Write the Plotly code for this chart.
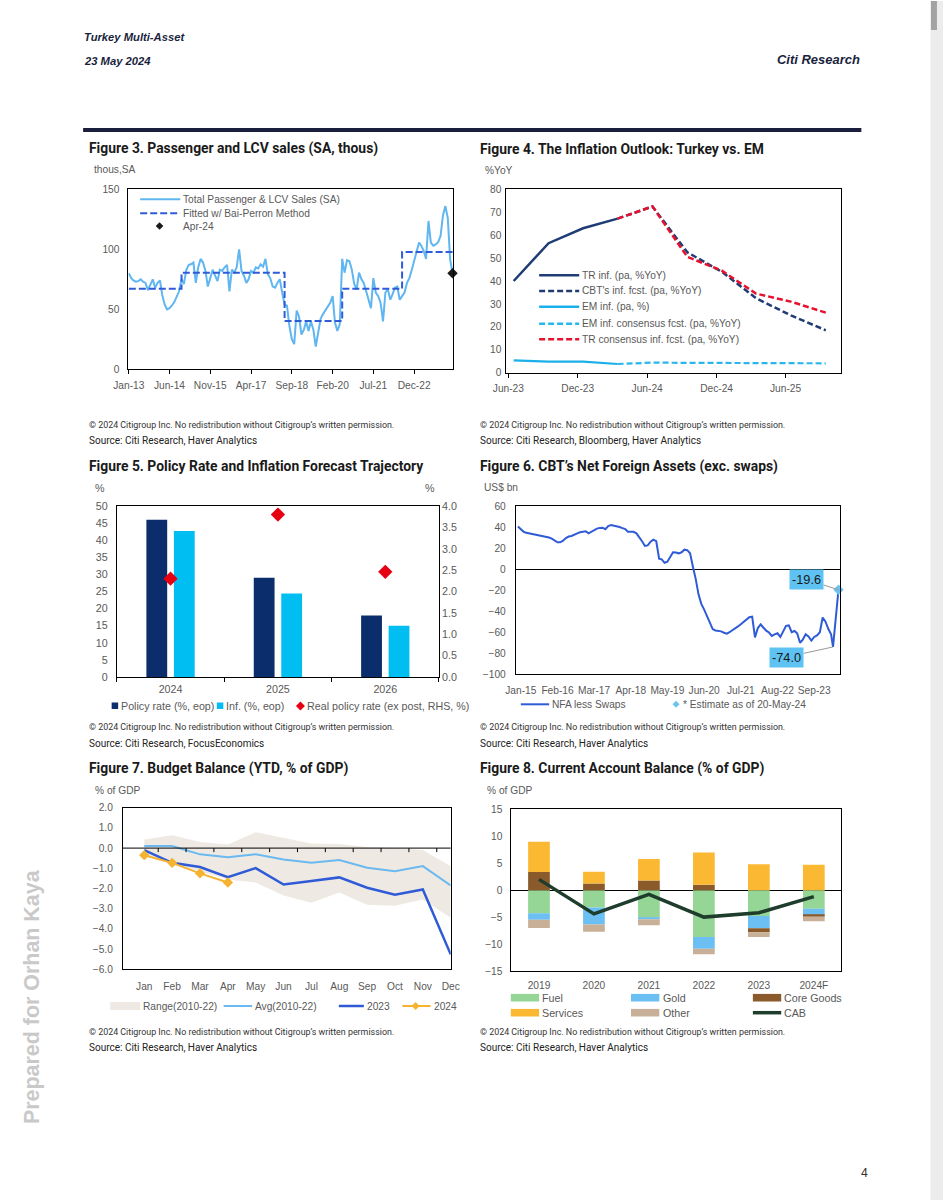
import plotly.graph_objects as go
import pandas as pd

W, H = 943, 1200
ARIAL = "Liberation Sans, Arial, sans-serif"
ROBO = "Roboto, Liberation Sans, sans-serif"
TICKC = "#595959"

# ------------------------------------------------------------------ DATA
# Figure 3: Passenger & LCV sales (monthly, Jan-13 .. Apr-24)
f3_start = "2013-01-01"
f3_sales = [80, 76, 74, 73, 73.5, 75, 73, 72, 66, 70, 75, 68,
            72, 74, 62, 54, 50, 51, 53, 56, 61, 65, 75, 71,
            83, 87, 87.5, 89, 72, 85, 92, 89, 82, 69, 76, 83,
            78, 73.5, 83, 82, 85, 87, 65, 83, 80.5, 85, 100, 82,
            78, 72, 75, 82, 80.5, 85, 84, 87.5, 85.5, 92, 79, 76,
            69, 68, 72, 75, 64, 54, 53, 36, 25, 21, 49, 44,
            29, 33, 40, 32, 40, 33, 19, 29, 42, 46, 49, 53,
            55.5, 61, 39, 32, 37.5, 92, 80.5, 91, 90, 83, 71, 66.7,
            80.5, 75, 72, 65, 58, 51, 76, 64, 61, 55.5, 40, 64,
            66.7, 58, 62.5, 68, 69, 58, 61, 64, 72, 76, 83, 90,
            97, 105.6, 103, 98.6, 92, 123.6, 105.6, 103, 104, 106, 111, 128,
            136, 126, 92, 80]
f3_fit_starts = ["2013-01-01", "2014-11-01", "2018-06-01", "2020-06-01", "2022-07-01"]
f3_fit_levels = [67.2, 80.5, 40.3, 67.2, 97.8]
f3_last_date = "2024-04-01"
f3_apr24 = 80.0

# Figure 4: inflation outlook (quarterly)
f4_dates = ["2023-06-15", "2023-09-15", "2023-12-15", "2024-03-15", "2024-06-15",
            "2024-09-15", "2024-12-15", "2025-03-15", "2025-06-15", "2025-09-15"]
f4_tr = [40, 56.5, 63, 67.2, None, None, None, None, None, None]
f4_cbt = [None, None, None, 67.2, 72.5, 52.5, 44, 32.5, 25, 18.5]
f4_em = [5.4, 4.8, 4.8, 3.8, None, None, None, None, None, None]
f4_em_cons = [None, None, None, 3.8, 4.4, 4.3, 4.2, 4.1, 4.1, 4.1]
f4_tr_cons = [None, None, None, 67.2, 72.5, 50.5, 44.5, 34.5, 31, 26.2]

# Figure 5: policy rate & inflation forecasts
f5_years = ["2024", "2025", "2026"]
f5_policy = [46, 29, 18]
f5_infl = [42.7, 24.4, 15]
f5_real = [2.3, 3.8, 2.46]

# Figure 6: CBT net foreign assets (monthly from Dec-14), plus estimate
f6_start = "2014-12-01"
f6_nfa = [40.5, 38, 35.5, 34.5, 34, 33, 32.5, 32, 31.5, 31, 30.5, 30,
          29, 27.5, 25.5, 25.5, 27, 29.5, 31, 31.5, 33, 34, 35, 35.5,
          36, 34, 35.5, 37.5, 38.5, 39.2, 39.4, 38, 41, 42, 41.5, 41,
          40, 39, 38, 35.5, 35.5, 35.5, 34, 30.5, 26.5, 22, 22.5, 26,
          28, 26.5, 10, 9.3, 6, 7, 12, 16, 15.8, 15, 16, 18.5,
          18, 15, 2, -9, -24, -33, -38.5, -45, -51.5, -57, -58.3, -58.8,
          -59.2, -60.5, -61.3, -60, -58.3, -56.5, -54.5, -52.5, -50, -47.5, -45.8, -45.2,
          -65, -56, -52.5, -55.5, -58.5, -60.3, -63.5, -62, -61, -64.5, -60, -54,
          -53.5, -60, -58.8, -61, -70, -67, -62, -64, -68, -64.5, -63, -60,
          -46, -50, -57, -62]
f6_low_date, f6_low = "2024-03-22", -74.0
f6_est_date, f6_est = "2024-05-20", -19.6

# Figure 7: budget balance YTD
f7_months = ["Jan", "Feb", "Mar", "Apr", "May", "Jun", "Jul", "Aug", "Sep", "Oct", "Nov", "Dec"]
f7_range_hi = [0.43, 0.63, 0.3, 0.18, 0.79, 0.51, 0.23, 0.2, 0.05, 0.0, -0.1, -0.9]
f7_range_lo = [-0.4, -0.8, -1.15, -1.55, -1.7, -2.35, -2.7, -2.2, -2.8, -2.85, -2.55, -3.45]
f7_avg = [0.1, 0.1, -0.31, -0.45, -0.3, -0.56, -0.73, -0.59, -0.97, -1.14, -0.89, -1.85]
f7_2023 = [-0.1, -0.73, -0.94, -1.44, -0.99, -1.8, -1.63, -1.45, -1.96, -2.31, -2.05, -5.26]
f7_2024 = [-0.35, -0.73, -1.25, -1.7]

# Figure 8: current account balance components
f8_years = ["2019", "2020", "2021", "2022", "2023", "2024F"]
f8_fuel = [-4.3, -3.2, -5.1, -8.7, -4.8, -3.45]
f8_gold = [-1.2, -3.15, -0.3, -2.15, -2.25, -1.2]
f8_core = [3.35, 1.25, 1.8, 1.0, -0.75, -0.3]
f8_services = [5.65, 2.15, 4.0, 6.0, 4.8, 4.7]
f8_other = [-1.5, -1.35, -1.1, -1.05, -0.9, -0.8]
f8_cab = [2.0, -4.4, -0.8, -5.0, -4.2, -1.2]

# ------------------------------------------------------------------ HELPERS
# screen calibration: photographed position = S * page position + O
OX, SX = 15.0, 0.973
OY, SY = 5.0, 0.99


def fx(p):
    return ((p - OX) / SX) / W


def fy(p):
    return 1 - ((p - OY) / SY) / H


def fs(s):
    return round(s / 0.98, 2)


shapes = []
annotations = []


def txt(x, y, text, size=10, color=TICKC, family=ARIAL, xanchor="left", yanchor="middle", **kw):
    annotations.append(dict(x=fx(x), y=fy(y), xref="paper", yref="paper", text=text,
                            showarrow=False, xanchor=xanchor, yanchor=yanchor,
                            font=dict(size=fs(size), color=color, family=family), **kw))


def hline(x0, x1, y, color, width, dash="solid"):
    shapes.append(dict(type="line", xref="paper", yref="paper", x0=fx(x0), x1=fx(x1),
                       y0=fy(y), y1=fy(y), line=dict(color=color, width=width, dash=dash)))


def rect(x0, y0, x1, y1, color):
    shapes.append(dict(type="rect", xref="paper", yref="paper", x0=fx(x0), x1=fx(x1),
                       y0=fy(y1), y1=fy(y0), fillcolor=color, line=dict(width=0)))


def diamond(cx, cy, r, color):
    path = (f"M {fx(cx)} {fy(cy - r)} L {fx(cx + r)} {fy(cy)} "
            f"L {fx(cx)} {fy(cy + r)} L {fx(cx - r)} {fy(cy)} Z")
    shapes.append(dict(type="path", xref="paper", yref="paper", path=path,
                       fillcolor=color, line=dict(width=0)))


TF = dict(family=ARIAL, size=fs(10), color=TICKC)
TF5 = dict(family=ARIAL, size=fs(10.5), color=TICKC)


def xax(l, r, anchor, **kw):
    d = dict(domain=[fx(l), fx(r)], anchor=anchor, showline=True, mirror=True,
             linecolor="black", linewidth=1, showgrid=False, zeroline=False,
             tickfont=TF, ticks="", fixedrange=True)
    d.update(kw)
    return d


def yax(t, b, anchor, **kw):
    d = dict(domain=[fy(b), fy(t)], anchor=anchor, showline=True, mirror=True,
             linecolor="black", linewidth=1, showgrid=False, zeroline=False,
             tickfont=TF, ticks="", fixedrange=True)
    d.update(kw)
    return d


fig = go.Figure()

# ------------------------------------------------------------------ FIGURE 3
f3_dates = pd.date_range(f3_start, periods=len(f3_sales), freq="MS")
fig.add_scatter(x=f3_dates, y=f3_sales, mode="lines", xaxis="x", yaxis="y",
                line=dict(color="#5fb6f0", width=2), showlegend=False)
fig.add_scatter(x=f3_fit_starts + [f3_last_date], y=f3_fit_levels + [f3_fit_levels[-1]],
                mode="lines", line_shape="hv", xaxis="x", yaxis="y",
                line=dict(color="#2f5bd8", width=2, dash="7px,3px"), showlegend=False)
fig.add_scatter(x=[f3_last_date], y=[f3_apr24], mode="markers", xaxis="x", yaxis="y",
                marker=dict(symbol="diamond", size=8, color="#1a1a1a"), cliponaxis=False,
                showlegend=False)

# ------------------------------------------------------------------ FIGURE 4
fig.add_scatter(x=f4_dates, y=f4_tr, mode="lines", xaxis="x2", yaxis="y2",
                line=dict(color="#1f3c75", width=2.5), showlegend=False)
fig.add_scatter(x=f4_dates, y=f4_cbt, mode="lines", xaxis="x2", yaxis="y2",
                line=dict(color="#1f3c75", width=2.5, dash="6px,3px"), showlegend=False)
fig.add_scatter(x=f4_dates, y=f4_em, mode="lines", xaxis="x2", yaxis="y2",
                line=dict(color="#1cb0ea", width=2.2), showlegend=False)
fig.add_scatter(x=f4_dates, y=f4_em_cons, mode="lines", xaxis="x2", yaxis="y2",
                line=dict(color="#29b6ec", width=2.2, dash="6px,3px"), showlegend=False)
fig.add_scatter(x=f4_dates, y=f4_tr_cons, mode="lines", xaxis="x2", yaxis="y2",
                line=dict(color="#e8112d", width=2.5, dash="6px,3px"), showlegend=False)

# ------------------------------------------------------------------ FIGURE 5
fig.add_bar(x=f5_years, y=f5_policy, xaxis="x3", yaxis="y3", marker_color="#0b2d6b",
            marker_line_width=0, showlegend=False)
fig.add_bar(x=f5_years, y=f5_infl, xaxis="x3", yaxis="y3", marker_color="#00bdf2",
            marker_line_width=0, showlegend=False)
fig.add_scatter(x=f5_years, y=f5_real, mode="markers", xaxis="x3", yaxis="y4",
                marker=dict(symbol="diamond", size=11, color="#e60012"), showlegend=False)

# ------------------------------------------------------------------ FIGURE 6
f6_dates = list(pd.date_range(f6_start, periods=len(f6_nfa), freq="MS").strftime("%Y-%m-%d"))
fig.add_scatter(x=f6_dates + [f6_low_date, f6_est_date], y=f6_nfa + [f6_low, f6_est],
                mode="lines", xaxis="x4", yaxis="y5",
                line=dict(color="#2f5bd6", width=2), showlegend=False)
fig.add_scatter(x=[f6_est_date], y=[f6_est], mode="markers", xaxis="x4", yaxis="y5",
                marker=dict(symbol="diamond", size=8, color="#6cc4f2"), cliponaxis=False,
                showlegend=False)

# ------------------------------------------------------------------ FIGURE 7
fig.add_scatter(x=f7_months, y=f7_range_lo, mode="lines", xaxis="x5", yaxis="y6",
                line=dict(width=0, color="#efe9e3"), showlegend=False)
fig.add_scatter(x=f7_months, y=f7_range_hi, mode="lines", xaxis="x5", yaxis="y6",
                fill="tonexty", fillcolor="#efe9e3",
                line=dict(width=0, color="#efe9e3"), showlegend=False)
fig.add_scatter(x=f7_months, y=f7_avg, mode="lines", xaxis="x5", yaxis="y6",
                line=dict(color="#6ab9f0", width=2), showlegend=False)
fig.add_scatter(x=f7_months, y=f7_2023, mode="lines", xaxis="x5", yaxis="y6",
                line=dict(color="#2f5bd6", width=2.5), showlegend=False)
fig.add_scatter(x=f7_months[:len(f7_2024)], y=f7_2024, mode="lines+markers",
                xaxis="x5", yaxis="y6",
                line=dict(color="#f6b331", width=2),
                marker=dict(symbol="diamond", size=8, color="#f6b331"), showlegend=False)

# ------------------------------------------------------------------ FIGURE 8
f8_series = [("Fuel", f8_fuel, "#95d595"), ("Gold", f8_gold, "#6bbff2"),
             ("Core Goods", f8_core, "#8b5a2b"), ("Services", f8_services, "#fbb933"),
             ("Other", f8_other, "#c8b098")]
pos = [0.0] * len(f8_years)
neg = [0.0] * len(f8_years)
for name, vals, col in f8_series:
    base = []
    for i, v in enumerate(vals):
        if v >= 0:
            base.append(pos[i])
            pos[i] += v
        else:
            base.append(neg[i])
            neg[i] += v
    fig.add_bar(x=f8_years, y=vals, base=base, xaxis="x6", yaxis="y7", width=0.395,
                offsetgroup="f8", marker_color=col, marker_line_width=0, showlegend=False)
fig.add_scatter(x=f8_years, y=f8_cab, mode="lines", xaxis="x6", yaxis="y7",
                line=dict(color="#1e3d2c", width=3.5), showlegend=False)

# ------------------------------------------------------------------ AXES
layout = dict(
    xaxis=xax(128.3, 452.7, "y", type="date", range=["2012-12-28", "2024-04-12"],
              tick0="2013-01-01", dtick="M17", tickformat="%b-%y", ticks="outside",
              ticklen=4, tickcolor="black", ticklabelstandoff=2),
    yaxis=yax(188.3, 368.3, "x", range=[0, 150], dtick=50, ticklabelstandoff=6),
    xaxis2=xax(505.7, 840, "y2", type="date", range=["2023-05-27", "2025-10-26"],
               tick0="2023-06-01", dtick="M6", tickformat="%b-%y", ticks="outside",
               ticklen=4, tickcolor="black", ticklabelstandoff=2),
    yaxis2=yax(188.3, 371.7, "x2", range=[0, 80], dtick=10, ticklabelstandoff=2),
    xaxis3=xax(116.7, 438.3, "y3", type="category", tickson="boundaries", ticks="outside",
               ticklen=4, tickcolor="black", ticklabelstandoff=2, tickfont=TF5),
    yaxis3=yax(505, 676, "x3", range=[0, 50], dtick=5, ticklabelstandoff=6, tickfont=TF5),
    yaxis4=dict(overlaying="y3", side="right", anchor="x3", range=[0, 4], dtick=0.5,
                tickformat=".1f", showgrid=False, zeroline=False, showline=False,
                tickfont=TF5, ticklabelstandoff=2, fixedrange=True),
    xaxis4=xax(515, 838.3, "y5", type="date", range=["2014-11-08", "2024-06-01"],
               tick0="2015-01-01", dtick="M13", tickformat="%b-%y", ticklabelstandoff=6),
    yaxis5=yax(505, 673.3, "x4", range=[-100, 60], dtick=20, ticklabelstandoff=7,
               zeroline=True, zerolinecolor="black", zerolinewidth=1),
    xaxis5=xax(122.7, 450, "y6", type="category", ticklabelstandoff=7),
    yaxis6=yax(806.7, 968.3, "x5", range=[-6, 2], dtick=1, tickformat=".1f",
               ticklabelstandoff=7),
    xaxis6=xax(510.7, 840, "y7", type="category", ticklabelstandoff=5),
    yaxis7=yax(808.3, 970, "x6", range=[-15, 15], dtick=5, ticklabelstandoff=6,
               zeroline=True, zerolinecolor="black", zerolinewidth=1),
)

# zero line of figure 7 (drawn above the range band) with its category tick marks
shapes.append(dict(type="line", xref="x5 domain", yref="y6", x0=0, x1=1, y0=0, y1=0,
                   line=dict(color="black", width=1), layer="above"))
for i in range(len(f7_months) - 1):
    shapes.append(dict(type="line", xref="x5", yref="y6", x0=i + 0.5, x1=i + 0.5,
                       y0=0, y1=-0.2, line=dict(color="black", width=1), layer="above"))

# ------------------------------------------------------------------ PAGE FURNITURE
rect(929, 0, 943, 1200, "#ececec")
rect(929.5, 0, 935.5, 29, "#a3a3a3")

txt(82, 36, "<b><i>Turkey Multi-Asset</i></b>", size=11, color="#1a1f3d", family=ARIAL)
txt(82, 60, "<b><i>23 May 2024</i></b>", size=11, color="#1a1f3d", family=ARIAL)
txt(861, 58, "<b><i>Citi Research</i></b>", size=12.7, color="#1a1f3d", family=ARIAL,
    xanchor="right")
rect(83, 127, 860, 131, "#1a1f3d")

txt(32, 996, "<b>Prepared for Orhan Kaya</b>", size=21, color="#c9c9c9", family=ARIAL,
    xanchor="center", textangle=-90)
txt(863, 1172, "4", size=12, color="#333333", family=ARIAL, xanchor="center")

# titles
TITLE_C = "#1a1a1a"
titles = [(87, 148, "Figure 3. Passenger and LCV sales (SA, thous)"),
          (477, 148, "Figure 4. The Inflation Outlook: Turkey vs. EM"),
          (87, 465, "Figure 5. Policy Rate and Inflation Forecast Trajectory"),
          (477, 465, "Figure 6. CBT\u2019s Net Foreign Assets (exc. swaps)"),
          (87, 768, "Figure 7. Budget Balance (YTD, % of GDP)"),
          (477, 768, "Figure 8. Current Account Balance (% of GDP)")]
for x, y, t in titles:
    txt(x, y, "<b>" + t + "</b>", size=13.6, color=TITLE_C, family=ROBO)

COPY = "\u00a9 2024 Citigroup Inc. No redistribution without Citigroup\u2019s written permission."
sources = [(87, 424.3, 440, "Source: Citi Research, Haver Analytics"),
           (477, 424.3, 440, "Source: Citi Research, Bloomberg, Haver Analytics"),
           (87, 726, 742.7, "Source: Citi Research, FocusEconomics"),
           (477, 726, 742.7, "Source: Citi Research, Haver Analytics"),
           (87, 1031, 1046.7, "Source: Citi Research, Haver Analytics"),
           (477, 1031, 1046.7, "Source: Citi Research, Haver Analytics")]
for x, yc, ys, s in sources:
    txt(x, yc, COPY, size=8.7, color="#333333", family=ROBO)
    txt(x, ys, s, size=9.8, color="#222222", family=ROBO)

# axis unit labels
txt(92, 169, "thous,SA")
txt(482, 169.3, "%YoY")
txt(92.5, 486.7, "%", size=10.5)
txt(422.5, 486.7, "%", size=10.5)
txt(481, 486.7, "US$ bn")
txt(92.5, 789.3, "% of GDP")
txt(484, 789.3, "% of GDP")

# ---- legend figure 3
hline(140, 180, 198.3, "#5fb6f0", 2)
txt(181, 198.3, "Total Passenger & LCV Sales (SA)")
hline(140, 180, 212.3, "#2f5bd8", 2, "7px,3px")
txt(181, 212.3, "Fitted w/ Bai-Perron Method")
diamond(159.3, 225, 3.8, "#1a1a1a")
txt(181, 225, "Apr-24")

# ---- legend figure 4
f4_leg = [(274.3, "#1f3c75", "solid", "TR inf. (pa, %YoY)"),
          (290, "#1f3c75", "6px,3px", "CBT's inf. fcst. (pa, %YoY)"),
          (305.7, "#1cb0ea", "solid", "EM inf. (pa, %)"),
          (322.7, "#29b6ec", "6px,3px", "EM inf. consensus fcst. (pa, %YoY)"),
          (338.3, "#e8112d", "6px,3px", "TR consensus inf. fcst. (pa, %YoY)")]
for y, c, d, t in f4_leg:
    hline(538.3, 578.3, y, c, 2.5, d)
    txt(579, y, t)

# ---- legend figure 5
rect(111.5, 701.5, 118, 708, "#0b2d6b")
txt(118.5, 705, "Policy rate (%, eop)", size=10.5)
rect(216.5, 701.5, 223, 708, "#00bdf2")
txt(223.5, 705, "Inf. (%, eop)", size=10.5)
diamond(300, 705, 4.5, "#e60012")
txt(304.5, 705, "Real policy rate (ex post, RHS, %)", size=10.5)

# ---- legend figure 6
hline(520, 548.3, 703.3, "#2f5bd6", 2)
txt(549, 703.3, "NFA less Swaps")
diamond(675, 703.3, 3.5, "#6cc4f2")
txt(679.5, 703.3, "* Estimate as of 20-May-24")

# ---- legend figure 7
rect(110, 1001, 140, 1009, "#efe9e3")
txt(141, 1005, "Range(2010-22)")
hline(223.3, 251.7, 1005, "#6ab9f0", 2)
txt(252.5, 1005, "Avg(2010-22)")
hline(338.3, 363.3, 1005, "#2f5bd6", 2.5)
txt(364, 1005, "2023")
hline(401.7, 430, 1005, "#f6b331", 2)
diamond(415, 1005, 4, "#f6b331")
txt(431, 1005, "2024")

# ---- legend figure 8
f8_leg = [(510, 996.7, "#95d595", "Fuel"), (630, 996.7, "#6bbff2", "Gold"),
          (751.7, 996.7, "#8b5a2b", "Core Goods"), (510, 1011.7, "#fbb933", "Services"),
          (630, 1011.7, "#c8b098", "Other")]
for x, y, c, t in f8_leg:
    rect(x, y - 3.8, x + 28.3, y + 3.8, c)
    txt(x + 29.5, y, t, size=10.5)
hline(751.7, 780, 1011.7, "#1e3d2c", 3.5)
txt(781.2, 1011.7, "CAB", size=10.5)

# ---- figure 6 callouts
annotations.append(dict(x=f6_est_date, y=f6_est, xref="x4", yref="y5", text="-19.6",
                        showarrow=True, arrowhead=0, arrowwidth=1, arrowcolor="#9a9a9a",
                        ax=-31 / SX, ay=-10 / SY, bgcolor="#5ec3f2", borderpad=2,
                        font=dict(family=ARIAL, size=fs(12.5), color="#1a1a1a")))
annotations.append(dict(x=f6_low_date, y=f6_low, xref="x4", yref="y5", text="-74.0",
                        showarrow=True, arrowhead=0, arrowwidth=1, arrowcolor="#9a9a9a",
                        ax=-45 / SX, ay=10 / SY, bgcolor="#5ec3f2", borderpad=2,
                        font=dict(family=ARIAL, size=fs(12.5), color="#1a1a1a")))

fig.update_layout(
    width=W, height=H, autosize=False,
    margin=dict(l=0, r=0, t=0, b=0),
    paper_bgcolor="white", plot_bgcolor="white",
    barmode="group", bargap=0.4875, bargroupgap=0.244,
    showlegend=False,
    shapes=shapes, annotations=annotations,
    **layout,
)

fig.write_html("out.html", config={"displayModeBar": False},
               post_script="document.body.style.margin='0';document.body.style.overflow='hidden';")
